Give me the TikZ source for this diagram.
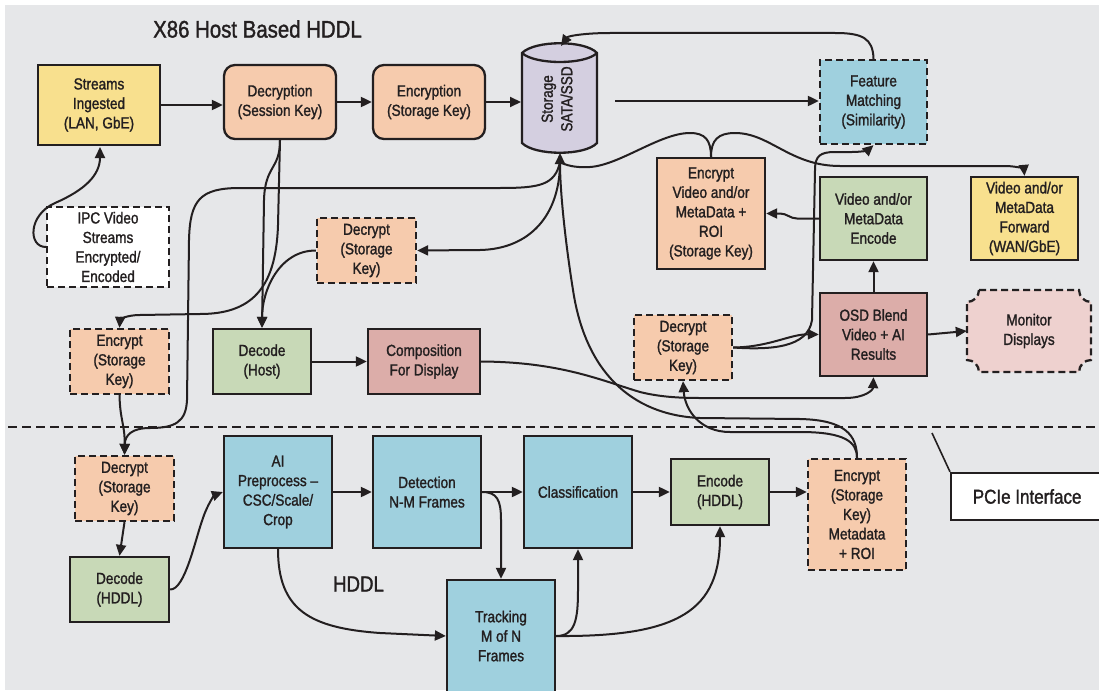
\documentclass[tikz,border=0pt]{standalone}
\usepackage{fontspec}
\setmainfont{Liberation Sans}[FakeStretch=0.85, FakeBold=1.4]
\usetikzlibrary{arrows.meta}
\definecolor{bg}{HTML}{E6E7E9}
\definecolor{ink}{HTML}{231F20}
\definecolor{yel}{HTML}{F8E08E}
\definecolor{peach}{HTML}{F6CBAD}
\definecolor{lav}{HTML}{D4CFE0}
\definecolor{blu}{HTML}{9FD0DE}
\definecolor{grn}{HTML}{C8D9B7}
\definecolor{pnk}{HTML}{DCADA9}
\definecolor{monpink}{HTML}{EED1CF}
\newcommand\bxfont{\fontsize{16}{19.5}\selectfont}
\begin{document}
\begin{tikzpicture}[x=1pt,y=-1pt,
  box/.style={draw=ink, line width=2.3pt, align=center, inner sep=1pt, text=ink, font=\bxfont},
  dbox/.style={box, dash pattern=on 7pt off 4pt},
  conn/.style={draw=ink, line width=2pt, line join=round},
  arr/.style={conn, -{Triangle[length=11pt,width=10pt]}},
]
\useasboundingbox (0,0) rectangle (1099,690);
\fill[bg] (5,5) rectangle (1099,690);

\node[font=\fontsize{24}{28}\selectfont, text=ink] (title) at (257.5,29) {X86 Host Based HDDL};
\node[font=\fontsize{22}{26}\selectfont, text=ink] (hddl) at (358.5,584) {HDDL};

% separator
\draw[ink, line width=2pt, dash pattern=on 9pt off 5pt] (8,427) -- (1099,427);

% storage cylinder
\filldraw[fill=lav, draw=ink, line width=2.3pt]
  (522,53) .. controls (535,40) and (585,40) .. (597,53) -- (597,143)
  .. controls (585,156) and (535,156) .. (522,143) -- cycle;
\draw[ink, line width=2.3pt] (522,53) .. controls (535,65) and (585,65) .. (597,53);
\node[rotate=90, font=\bxfont, text=ink, align=center] (stor) at (557,99) {Storage\\SATA/SSD};
\coordinate (stortop) at (561,46);
\coordinate (storbot) at (560,153);
\coordinate (storjoin) at (560,162);
\coordinate (storleft) at (521,102);
\coordinate (storout) at (615,101);

% monitor shape
\filldraw[fill=monpink, draw=ink, line width=2.3pt, dash pattern=on 7pt off 4pt]
 (979,290) -- (1079,290) .. controls (1079,296.6) and (1084.4,302) .. (1091,302)
 -- (1091,360) .. controls (1084.4,360) and (1079,365.4) .. (1079,372)
 -- (979,372) .. controls (979,365.4) and (973.6,360) .. (967,360)
 -- (967,302) .. controls (973.6,302) and (979,296.6) .. (979,290) -- cycle;
\node[font=\bxfont, text=ink, align=center, minimum width=124pt, minimum height=82pt, inner sep=0pt] (mon) at (1029,331) {Monitor\\Displays};

% boxes
\node[box, fill=yel, minimum width=122pt, minimum height=80pt] (streams) at (99,105) {Streams\\Ingested\\(LAN, GbE)};
\node[box, fill=peach, rounded corners=11pt, minimum width=112pt, minimum height=74pt] (decr) at (280,102) {Decryption\\(Session Key)};
\node[box, fill=peach, rounded corners=11pt, minimum width=112pt, minimum height=74pt] (encr) at (429,102) {Encryption\\(Storage Key)};
\node[dbox, fill=blu, minimum width=107pt, minimum height=84pt] (feat) at (873.5,102) {Feature\\Matching\\(Similarity)};
\node[box, fill=peach, minimum width=108pt, minimum height=111pt] (encv) at (711,213.5) {Encrypt\\Video and/or\\MetaData +\\ROI\\(Storage Key)};
\node[box, fill=grn, minimum width=107pt, minimum height=83pt] (venc) at (873.5,218.5) {Video and/or\\MetaData\\Encode};
\node[box, fill=yel, minimum width=107pt, minimum height=83pt] (vfwd) at (1024.5,218.5) {Video and/or\\MetaData\\Forward\\(WAN/GbE)};
\node[dbox, fill=white, minimum width=122pt, minimum height=80pt] (ipc) at (108,247) {IPC Video\\Streams\\Encrypted/\\Encoded};
\node[dbox, fill=peach, minimum width=99pt, minimum height=65pt] (decm) at (366.5,250.5) {Decrypt\\(Storage\\Key)};
\node[dbox, fill=peach, minimum width=99pt, minimum height=65pt] (encl) at (119.5,361.5) {Encrypt\\(Storage\\Key)};
\node[box, fill=grn, minimum width=98pt, minimum height=65pt] (dech) at (262,361.5) {Decode\\(Host)};
\node[box, fill=pnk, minimum width=112pt, minimum height=65pt] (comp) at (424,361.5) {Composition\\For Display};
\node[dbox, fill=peach, minimum width=98pt, minimum height=65pt] (decr2) at (683,347.5) {Decrypt\\(Storage\\Key)};
\node[box, fill=pnk, minimum width=107pt, minimum height=83pt] (osd) at (873.5,334.5) {OSD Blend\\Video + AI\\Results};

\node[dbox, fill=peach, minimum width=99pt, minimum height=65pt] (decb) at (124.5,488.5) {Decrypt\\(Storage\\Key)};
\node[box, fill=grn, minimum width=99pt, minimum height=65pt] (dechd) at (119.5,589.5) {Decode\\(HDDL)};
\node[box, fill=blu, minimum width=108pt, minimum height=112pt] (ai) at (278,492) {AI\\Preprocess --\\CSC/Scale/\\Crop};
\node[box, fill=blu, minimum width=108pt, minimum height=112pt] (det) at (427,492) {Detection\\N-M Frames};
\node[box, fill=blu, minimum width=108pt, minimum height=112pt] (cls) at (578,492) {Classification};
\node[box, fill=grn, minimum width=98pt, minimum height=66pt] (ench) at (720,492) {Encode\\(HDDL)};
\node[dbox, fill=peach, minimum width=98pt, minimum height=111pt] (encm) at (857,514.5) {Encrypt\\(Storage\\Key)\\Metadata\\+ ROI};
\node[box, fill=blu, minimum width=108pt, minimum height=112pt] (trk) at (501,636) {Tracking\\M of N\\Frames};

\node[draw=ink, fill=white, line width=2.3pt, minimum width=152pt, minimum height=47pt, anchor=west, text=ink, font=\fontsize{20}{24}\selectfont] (pcie) at (950,496.5) {PCIe Interface};
\coordinate (pcietip) at (932,433);
\draw[ink, line width=1.6pt] (pcietip) -- (pcie.north west);

% top row connectors
\draw[arr] (streams.east) -- (streams.east -| decr.west);
\draw[arr] (decr.east) -- (encr.west);
\draw[arr] (encr.east) -- (storleft);
\draw[arr] (storout) -- (storout -| feat.west);
\draw[arr] (feat.north) .. controls (873,38) and (862,33) .. (835,33) -- (610,33) .. controls (585,33) and (568,36) .. (stortop);
\draw[arr] (ipc.west) .. controls (28,247) and (28,215) .. (55,203) .. controls (85,190) and (100,175) .. (100,147);

% decryption outputs
\draw[arr] (decr.south) .. controls (280,170) and (265,165) .. (264,200) -- (dech.north);
\draw[arr] (decm.west) to[out=180,in=90] (dech.north);
\draw[arr] (decr.south) -- (278,225) .. controls (276,290) and (250,314) .. (200,314) -- (140,315) .. controls (126,315) and (120,320) .. (encl.north);

% storage bottom connections
\draw[arr] (storjoin) .. controls (555,185) and (540,188) .. (500,188) -- (240,188) .. controls (200,188) and (190,200) .. (189,240) -- (187,400) .. controls (186,422) and (175,428) .. (150,428) .. controls (132,428) and (125,435) .. (decb.north);
\draw[arr] (encl.south) .. controls (120,420) and (125,425) .. (decb.north);
\draw[arr] (storjoin) .. controls (560,215) and (530,249) .. (480,250) -- (decm.east);
\draw[conn] (encv.north) .. controls (711,140) and (705,133) .. (690,133) .. controls (660,133) and (620,165) .. (590,167) .. controls (575,168) and (565,165) .. (storjoin);
\draw[arr] (encv.north) .. controls (711,140) and (718,133) .. (735,133) .. controls (770,133) and (790,166) .. (840,166) -- (1005,166) .. controls (1018,166) and (1024,170) .. (vfwd.north);
\draw[arr] (venc.west) -- (797,218.5) to[out=180,in=0] (780,213.5) -- (encv.east);
\draw[arr] (osd.north) -- (venc.south);
\draw[arr] (decr2.east) .. controls (770,347) and (790,334) .. (osd.west);
\draw[arr] (decr2.east) .. controls (770,350) and (808,348) .. (812,320) -- (815,170) .. controls (815,156) and (820,152) .. (835,152) -- (852,152) .. controls (862,152) and (868,150) .. (feat.south);
\draw[arr] (osd.east) -- (mon.west);
\draw[arr] (comp.east) .. controls (560,362) and (600,380) .. (640,392) .. controls (660,397) and (680,398) .. (700,398) -- (845,398) .. controls (865,398) and (873,390) .. (osd.south);
\draw[arr] (dech.east) -- (comp.west);
\draw[arr] (encm.north) .. controls (857,435) and (845,420) .. (800,419) -- (700,418) .. controls (630,415) and (585,370) .. (573,290) .. controls (565,240) and (560,190) .. (storbot);
\draw[arr] (encm.north) .. controls (857,442) and (845,432) .. (800,432) -- (730,432) .. controls (700,432) and (685,410) .. (decr2.south);

% HDDL connectors
\draw[arr] (decb.south) -- (dechd.north);
\draw[arr] (dechd.east) .. controls (185,590) and (195,540) .. (203,518) .. controls (208,503) and (215,495) .. (ai.west);
\draw[arr] (ai.east) -- (det.west);
\draw[arr] (det.east) -- (cls.west);
\draw[arr] (cls.east) -- (ench.west);
\draw[arr] (ench.east) -- (ench.east -| encm.west);
\draw[arr] (det.east) .. controls (497,492) and (501,500) .. (501,520) -- (trk.north);
\draw[arr] (ai.south) .. controls (278,610) and (310,628) .. (380,633) -- (trk.west);
\draw[arr] (trk.east) .. controls (575,636) and (578,620) .. (578,590) -- (cls.south);
\draw[arr] (trk.east) .. controls (680,637) and (720,610) .. (ench.south);
\end{tikzpicture}
\end{document}
